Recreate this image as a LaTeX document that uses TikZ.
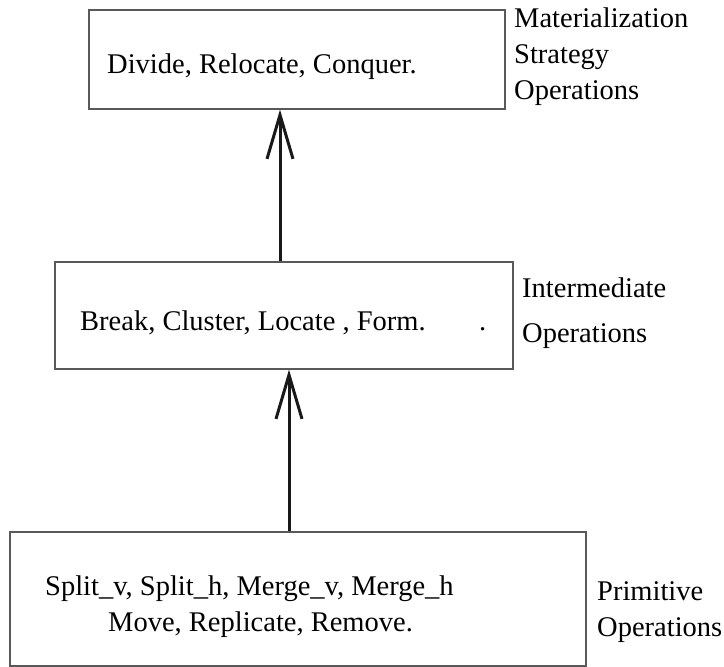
\documentclass[tikz,border=0pt]{standalone}
\usepackage{fontspec}
\setmainfont{Liberation Serif}
\usetikzlibrary{arrows.meta}
\begin{document}
\begin{tikzpicture}[x=1pt,y=-1pt,
  opbox/.style={draw=black!65, line width=1.2pt, inner sep=0pt},
  optext/.style={font=\fontsize{28.5}{34}\selectfont, anchor=base west, inner sep=0pt},
  uparrow/.style={line width=3pt, draw=black!90,
    -{Straight Barb[length=44pt,width=26pt,line width=3pt]}}]
\useasboundingbox (0,0) rectangle (724,667);

% three levels of operations
\node[opbox, minimum width=416pt, minimum height=99pt] (top) at (297,59.5) {};
\node[opbox, minimum width=458pt, minimum height=107pt] (mid) at (284,315.5) {};
\node[opbox, minimum width=576pt, minimum height=134pt] (bot) at (298,599) {};

% box contents
\node[optext] (toptxt) at (107,73) {Divide, Relocate, Conquer.};
\node[optext] (midtxt) at (80,330) {Break, Cluster, Locate , Form.};
\node[optext] (middot) at (479,330) {.};
\node[optext] (bottxt1) at (45,595) {Split\_v, Split\_h, Merge\_v, Merge\_h};
\node[optext] (bottxt2) at (108,631) {Move, Replicate, Remove.};

% level names
\node[optext] (toplab1) at (514,27) {Materialization};
\node[optext] (toplab2) at (514,63) {Strategy};
\node[optext] (toplab3) at (514,99) {Operations};
\node[optext] (midlab1) at (522,297) {Intermediate};
\node[optext] (midlab2) at (522,342) {Operations};
\node[optext] (botlab1) at (597,600) {Primitive};
\node[optext] (botlab2) at (597,636) {Operations};

% connectors between levels
\coordinate (upper) at (280,0);
\coordinate (lower) at (289,0);
\draw[uparrow] (mid.north -| upper) -- (top.south -| upper);
\draw[uparrow] (bot.north -| lower) -- (mid.south -| lower);
\end{tikzpicture}
\end{document}
